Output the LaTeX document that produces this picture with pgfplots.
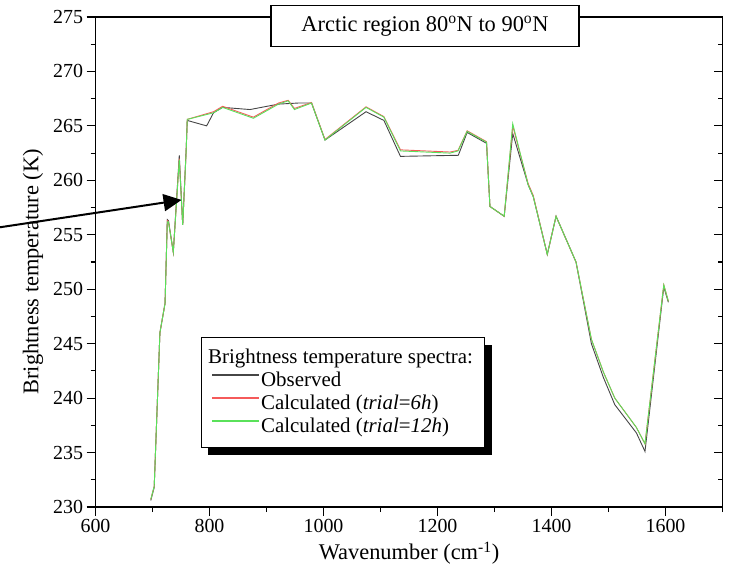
\documentclass[border=0pt]{standalone}
\usepackage{pgfplots}
\pgfplotsset{compat=1.18}
\usepackage{fontspec}
\setmainfont{Liberation Serif}
\usetikzlibrary{arrows.meta,shadows}
\definecolor{obsgray}{RGB}{70,70,70}
\definecolor{calcred}{RGB}{245,90,90}
\definecolor{calcgreen}{RGB}{90,225,90}
\begin{document}
\begin{tikzpicture}
\pgfplotsset{
  common/.style={
    scale only axis, width=627bp, height=490bp,
    xmin=600, xmax=1700, ymin=230, ymax=275,
    ytick={230,235,...,275}, minor y tick num=1,
    xtick={600,800,...,1800}, minor x tick num=1,
    major tick length=9bp, minor tick length=5bp,
    tick style={black, line width=1.2bp},
    /pgf/number format/assume math mode=true,
    /pgf/number format/1000 sep={},
    ticklabel style={font=\fontsize{20}{24}\selectfont},
  }
}
\begin{axis}[common,
  name=main,
  axis line style={line width=1.5bp},
  xtick pos=bottom, ytick pos=left,
  tick align=outside,
  clip=false,
  xlabel={Wavenumber (cm\textsuperscript{-1})},
  ylabel={Brightness temperature (K)},
  label style={font=\fontsize{22.5}{26}\selectfont},
  xlabel style={at={(axis description cs:0.5,-0.094)}, anchor=center},
  ylabel style={at={(axis description cs:-0.0997,0.48)}, anchor=center},
  legend style={at={(0.168,0.347)}, anchor=north west, draw=black, line width=1.2bp,
    fill=white, font=\fontsize{21}{24}\selectfont, inner xsep=10bp, inner ysep=9bp,
    drop shadow={shadow xshift=7bp, shadow yshift=-7bp, fill=black, opacity=1},
    nodes={inner sep=1.5bp, text height=15bp, text depth=5bp},
    row sep=0pt},
  legend cell align=left,
  legend image code/.code={%
    \begin{scope}[#1]%
      \pgfsetlinewidth{1.2bp}%
      \pgfpathmoveto{\pgfqpoint{0bp}{6bp}}%
      \pgfpathlineto{\pgfqpoint{47bp}{6bp}}%
      \pgfusepath{stroke}%
    \end{scope}},
]
\addlegendimage{empty legend}
\addlegendentry{\hspace*{-53bp}Brightness temperature spectra:}

\addplot[obsgray, line width=0.9bp] coordinates {
(697,230.6) (703,231.8) (713,246.0) (722,248.7) (726,256.4) (728,256.3)
(736.5,253.4) (747,262.3) (753,255.9) (759,262.8) (761,265.5) (795,265.0)
(807,266.2) (823,266.7) (871,266.5) (921,267.0) (956,267.1) (979,267.1)
(1002.6,263.7) (1074.6,266.3) (1106,265.5) (1135,262.2) (1236.5,262.3)
(1252,264.4) (1286,263.4) (1292,257.6) (1317,256.7) (1332,264.3) (1359,259.6)
(1368,258.5) (1392.6,253.2) (1408,256.7) (1443,252.5) (1470,245.0) (1491,241.9)
(1511,239.4) (1549,236.8) (1564,235.1) (1597,250.2) (1605,248.8)
};
\addlegendentry{Observed}

\addplot[calcred, line width=0.9bp] coordinates {
(697,230.7) (703,231.9) (713,246.0) (722,248.7) (726,256.3) (728,256.2)
(736.5,253.4) (747,262.0) (753,255.9) (759,262.6) (761,265.6) (807,266.3)
(823,266.8) (877,265.8) (921,267.1) (938,267.35) (949,266.6) (979,267.15)
(1002.6,263.75) (1074.6,266.75) (1106,265.85) (1135,262.8) (1222,262.6)
(1236,262.75) (1252,264.55) (1286,263.55) (1292,257.6) (1317,256.7) (1332,265.0)
(1359,259.7) (1368,258.6) (1392.6,253.2) (1408,256.7) (1443,252.5) (1470,245.4)
(1491,242.4) (1511,240.0) (1549,237.3) (1564,235.8) (1597,250.4) (1605,248.9)
};
\addlegendentry{Calculated (\textit{trial}=\textit{6h})}

\addplot[calcgreen, line width=0.9bp] coordinates {
(697,230.7) (703,231.9) (713,246.0) (722,248.7) (726,256.2) (728,256.2)
(736.5,253.4) (747,261.9) (753,255.9) (759,262.6) (761,265.6) (807,266.2)
(823,266.7) (877,265.7) (921,267.0) (938,267.3) (949,266.5) (979,267.1)
(1002.6,263.7) (1074.6,266.7) (1106,265.8) (1135,262.7) (1222,262.5)
(1236,262.7) (1252,264.5) (1286,263.5) (1292,257.6) (1317,256.7) (1332,265.2)
(1359,259.6) (1368,258.5) (1392.6,253.2) (1408,256.7) (1443,252.5) (1470,245.4)
(1491,242.4) (1511,240.0) (1549,237.3) (1564,235.8) (1597,250.4) (1605,248.9)
};
\addlegendentry{Calculated (\textit{trial}=\textit{12h})}

\node[draw=black, fill=white, line width=1.3bp, minimum width=308bp, minimum height=41bp,
  inner sep=0pt, font=\fontsize{22.5}{26}\selectfont]
  at (rel axis cs:0.5255,0.9816) {Arctic region 80\textsuperscript{o}N to 90\textsuperscript{o}N};

\draw[-{Triangle[length=18bp,width=17bp]}, line width=2bp, black]
  (axis cs:432.5,255.69) -- (axis cs:751,258.2);

\coordinate (bl) at (rel axis cs:0,0);
\coordinate (tr) at (rel axis cs:1,1);
\end{axis}

\begin{axis}[common,
  hide x axis,
  axis y line*=right,
  axis line style={line width=1.5bp},
  tick align=inside,
  yticklabels={},
]
\end{axis}

\pgfresetboundingbox
\path ([shift={(-95.5bp,-65bp)}]bl) rectangle ([shift={(7.5bp,17bp)}]tr);
\end{tikzpicture}
\end{document}
